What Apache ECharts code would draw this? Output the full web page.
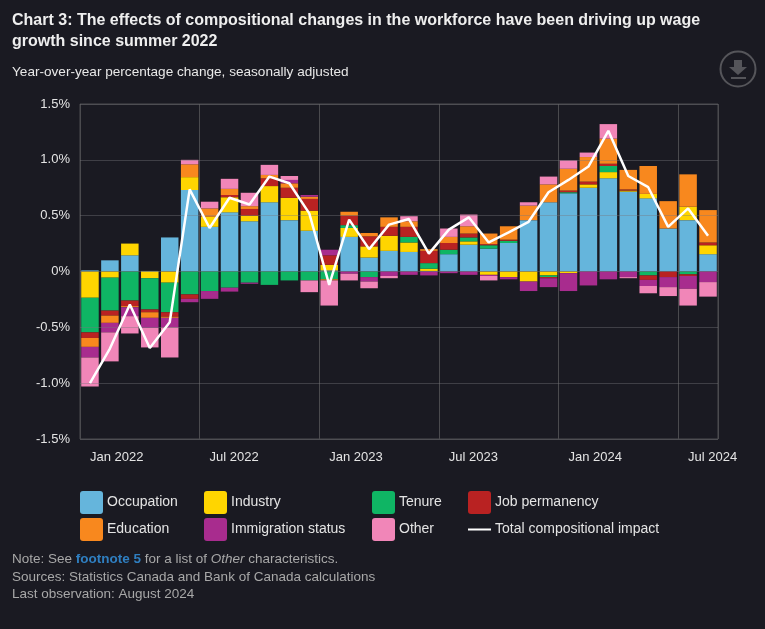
<!DOCTYPE html>
<html><head><meta charset="utf-8">
<style>html,body{margin:0;padding:0;background:#1a1a22}#c{width:765px;height:629px}</style>
<script src="https://cdn.jsdelivr.net/npm/echarts@6/dist/echarts.min.js"></script>
</head><body><div id="c"></div>
<script>
const categories = [
 'Jan 2022','Feb 2022','Mar 2022','Apr 2022','May 2022','Jun 2022','Jul 2022','Aug 2022','Sep 2022','Oct 2022','Nov 2022','Dec 2022',
 'Jan 2023','Feb 2023','Mar 2023','Apr 2023','May 2023','Jun 2023','Jul 2023','Aug 2023','Sep 2023','Oct 2023','Nov 2023','Dec 2023',
 'Jan 2024','Feb 2024','Mar 2024','Apr 2024','May 2024','Jun 2024','Jul 2024','Aug 2024'];
const occupation = [0.01,0.10,0.145,0.005,0.305,0.73,0.40,0.53,0.45,0.62,0.46,0.365,0.01,0.31,0.125,0.185,0.175,0.005,0.155,0.24,0.205,0.255,0.46,0.62,0.70,0.75,0.835,0.715,0.655,0.385,0.46,0.155];
const industry = [-0.235,-0.055,0.105,-0.06,-0.1,0.115,0.09,0.135,0.05,0.145,0.2,0.18,0.05,0.08,0.10,0.135,0.085,0.02,0,0.03,-0.03,-0.05,-0.09,-0.035,-0.015,0.03,0.055,0.01,0.04,0,0.12,0.08];
const tenure = [-0.31,-0.295,-0.26,-0.28,-0.265,-0.205,-0.175,-0.145,-0.1,-0.12,-0.08,-0.08,-0.07,0.025,-0.05,0,0.05,0.05,0.04,0.035,0.03,0.02,0,-0.015,0.01,0,0.055,0,-0.035,0,-0.025,0];
const jobPermanency = [-0.05,-0.045,-0.05,-0.025,-0.04,-0.04,0,0.02,0.06,0.07,0.09,0.105,0.085,0.085,0.09,0.08,0.09,0.11,0.06,0.035,0.01,0.01,0,-0.01,0.015,0.025,0.02,0.01,-0.04,-0.05,-0.015,0.025];
const education = [-0.08,-0.065,-0.01,-0.05,-0.01,0.115,0.075,0.055,0.025,0.03,0.04,0.02,-0.01,0.035,0.03,0.085,0.05,0.015,0.055,0.065,0.095,0.12,0.13,0.16,0.195,0.22,0.225,0.175,0.25,0.245,0.29,0.29];
const immigration = [-0.095,-0.085,-0.08,-0.09,-0.085,-0.03,-0.07,-0.035,-0.01,0,0.03,0.015,0.05,-0.02,-0.04,-0.04,-0.03,-0.035,-0.015,-0.03,-0.01,-0.02,-0.085,-0.08,-0.16,-0.125,-0.07,-0.05,-0.055,-0.09,-0.115,-0.095];
const other = [-0.26,-0.26,-0.155,-0.175,-0.27,0.04,0.06,0.09,0.12,0.09,0.035,-0.105,-0.225,-0.06,-0.06,-0.02,0.045,0,0.075,0.105,-0.04,0,0.03,0.07,0.075,0.04,0.13,-0.01,-0.065,-0.08,-0.15,-0.13];
const total = [-1.0,-0.69,-0.295,-0.685,-0.455,0.735,0.39,0.66,0.60,0.85,0.79,0.52,-0.12,0.465,0.2,0.42,0.47,0.16,0.375,0.485,0.26,0.35,0.445,0.71,0.82,0.94,1.26,0.855,0.755,0.40,0.565,0.32];

const FONT = '"Liberation Sans", Arial, sans-serif';
const ROUND_ICON = 'path://M3 0H20Q23 0 23 3V20Q23 23 20 23H3Q0 23 0 20V3Q0 0 3 0Z';
const LINE_ICON = 'path://M0 0L0 0ZM0 10.5H23V12.5H0ZM23 23L23 23Z';
const bar = (name, data, color) => ({
  name, type:'bar', stack:'all', data, barWidth:17.5, z:2, animation:false,
  itemStyle:{color, borderWidth:0}
});
const legendAt = (left, names) => ({
  left, top:491, orient:'vertical', itemWidth:23, itemHeight:23, itemGap:4, padding:0,
  itemStyle:{borderWidth:0},
  textStyle:{color:'#e4e4e4', fontSize:14, fontFamily:FONT, padding:[-4,0,0,-1]},
  data:names.map(n => ({name:n, icon: n === 'Total compositional impact' ? LINE_ICON : ROUND_ICON}))
});
const noteStyle = {color:'#a8a8a8', fontSize:13.5, fontWeight:'normal', fontFamily:FONT};
const chart = echarts.init(document.getElementById('c'), null, {renderer:'canvas'});
chart.setOption({
  backgroundColor:'#1a1a22',
  animation:false,
  textStyle:{fontFamily:FONT},
  title:[
    {left:12, top:10, padding:0, text:'Chart 3: The effects of compositional changes in the workforce have been driving up wage\ngrowth since summer 2022',
     textStyle:{color:'#eeeeee', fontSize:16, fontWeight:'bold', lineHeight:21, fontFamily:FONT}},
    {left:12, top:65, padding:0, text:'Year-over-year percentage change, seasonally adjusted',
     textStyle:{color:'#e8e8e8', fontSize:13.6, fontWeight:'normal', fontFamily:FONT}},
    {left:12, top:552, padding:0, text:'{n|Note: See }{b|footnote 5}{n| for a list of }{i|Other}{n| characteristics.}',
     textStyle:{fontWeight:'normal', rich:{n:noteStyle, b:{color:'#2f7fc1',fontSize:13.5,fontWeight:'bold',fontFamily:FONT}, i:{...noteStyle, fontStyle:'italic'}}}},
    {left:12, top:570, padding:0, text:'Sources: Statistics Canada and Bank of Canada calculations', textStyle:noteStyle},
    {left:12, top:587, padding:0, text:'Last observation: August 2024', textStyle:noteStyle}
  ],
  legend:[
    legendAt(80, ['Occupation','Education']),
    legendAt(204, ['Industry','Immigration status']),
    legendAt(372, ['Tenure','Other']),
    legendAt(468, ['Job permanency','Total compositional impact'])
  ],
  grid:{left:80, right:47, top:104, bottom:190, show:true, borderColor:'#4a4a4e', borderWidth:1},
  xAxis:{type:'category', data:categories, boundaryGap:true,
    axisLine:{show:false}, axisTick:{show:false},
    axisLabel:{interval:5, align:'left', margin:12, color:'#e4e4e4', fontSize:13, fontFamily:FONT, hideOverlap:false},
    splitLine:{show:true, interval:5, lineStyle:{color:'#4a4a4e', width:1}}},
  yAxis:{type:'value', min:-1.5, max:1.5, interval:0.5, z:5,
    axisLine:{show:false}, axisTick:{show:false},
    axisLabel:{margin:10, color:'#e4e4e4', fontSize:13, fontFamily:FONT, formatter:v => v === 0 ? '0%' : v.toFixed(1)+'%'},
    splitLine:{show:true, lineStyle:{color:'rgba(120,120,125,0.4)', width:1}}},
  series:[
    bar('Occupation', occupation, '#65b5dc'),
    bar('Industry', industry, '#ffd500'),
    bar('Tenure', tenure, '#0fb564'),
    bar('Job permanency', jobPermanency, '#b92222'),
    bar('Education', education, '#f8881e'),
    bar('Immigration status', immigration, '#a82c8e'),
    bar('Other', other, '#f186b8'),
    {name:'Total compositional impact', type:'line', data:total, z:10, symbol:'none', animation:false,
     lineStyle:{color:'#ffffff', width:2.5}, itemStyle:{color:'#ffffff'}}
  ],
  graphic:[
    {type:'circle', shape:{cx:738, cy:69, r:17.5}, style:{fill:'none', stroke:'#55555a', lineWidth:2}},
    {type:'polygon', shape:{points:[[734,60],[742,60],[742,67],[747,67],[738,75],[729,67],[734,67]]}, style:{fill:'#55555a'}},
    {type:'rect', shape:{x:731, y:77, width:15, height:2}, style:{fill:'#55555a'}}
  ]
});
</script></body></html>
